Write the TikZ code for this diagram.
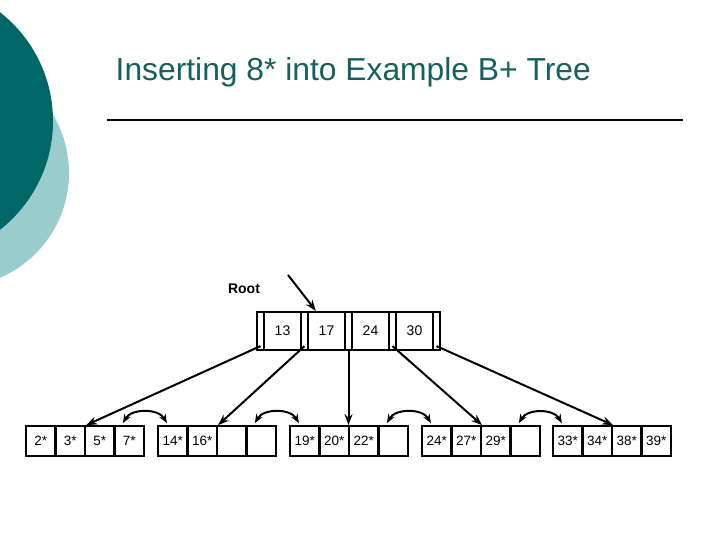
\documentclass[tikz,border=0pt]{standalone}
\usepackage{fontspec}
\setmainfont{Liberation Sans}
\usetikzlibrary{arrows.meta}
\definecolor{darkteal}{RGB}{0,102,102}
\definecolor{lightteal}{RGB}{153,204,204}
\definecolor{titleteal}{RGB}{22,96,96}
\tikzset{
  cell/.style={draw=black, line width=2.2pt, inner sep=0pt, minimum width=29.5pt, minimum height=29.5pt, font=\fontsize{13.5}{15}\selectfont},
  pcell/.style={draw=black, line width=2.2pt, inner sep=0pt, minimum width=7pt, minimum height=38pt},
  kcell/.style={draw=black, line width=2.2pt, inner sep=0pt, minimum width=37pt, minimum height=38pt, font=\fontsize{14}{16}\selectfont},
  ptr/.style={line width=2pt, -{Stealth[length=11pt,width=8pt]}},
  sib/.style={line width=2pt, {Stealth[length=9pt,width=7pt]}-{Stealth[length=9pt,width=7pt]}},
}
\begin{document}
\begin{tikzpicture}[x=1pt,y=-1pt]
\useasboundingbox (0,0) rectangle (720,540);
\clip (0,0) rectangle (720,540);
\fill[white] (0,0) rectangle (720,540);
% background circles
\fill[lightteal] (-45,173) circle[radius=114pt];
\fill[darkteal] (-85,121) circle[radius=138pt];
% title
\node[anchor=base west, inner sep=0pt, text=titleteal, font=\fontsize{31.8}{36}\selectfont] (title) at (115.5,80.5) {Inserting 8* into Example B+ Tree};
\coordinate (ruleL) at (107,120);
\coordinate (ruleR) at (683,120);
\draw[line width=2.2pt] (ruleL) -- (ruleR);
% root node
\node[pcell] (p0) at (260.5,331) {};
\node[kcell] (k1) at (282.5,331) {13};
\node[pcell] (p1) at (304.5,331) {};
\node[kcell] (k2) at (326.5,331) {17};
\node[pcell] (p2) at (348.5,331) {};
\node[kcell] (k3) at (370.5,331) {24};
\node[pcell] (p3) at (392.5,331) {};
\node[kcell] (k4) at (414.5,331) {30};
\node[pcell] (p4) at (436.5,331) {};
\node[font=\bfseries\fontsize{14}{16}\selectfont] (rootlbl) at (244,288.5) {Root};
\coordinate (rootin) at (288,275);
\draw[ptr] (rootin) -- ([xshift=9pt]k2.north west);
% leaves
\foreach \i/\s/\a/\b/\c/\d in {1/26/2*/3*/5*/7*, 2/158/14*/16*//, 3/290/19*/20*/22*/, 4/422/24*/27*/29*/, 5/553/33*/34*/38*/39*}{
  \node[cell] (l\i c1) at (\s+14.75,441) {\a};
  \node[cell] (l\i c2) at (\s+44.25,441) {\b};
  \node[cell] (l\i c3) at (\s+73.75,441) {\c};
  \node[cell] (l\i c4) at (\s+103.25,441) {\d};
}
% pointers from root to leaves
\draw[ptr] ([yshift=5pt]p0.south) -- (l1c2.north east);
\draw[ptr] ([yshift=5pt]p1.south) -- (l2c2.north east);
\draw[ptr] (p2.south) -- (p2.south |- l3c2.north);
\draw[ptr] ([yshift=5pt]p3.south) -- (l4c2.north east);
\draw[ptr] ([yshift=5pt]p4.south) -- (l5c2.north east);
% sibling links
\draw[sib] ([xshift=9.5pt,yshift=2pt]l1c4.north west) to[out=60,in=120] ([xshift=10pt,yshift=2pt]l2c1.north west);
\draw[sib] ([xshift=9.5pt,yshift=2pt]l2c4.north west) to[out=60,in=120] ([xshift=10pt,yshift=2pt]l3c1.north west);
\draw[sib] ([xshift=9.5pt,yshift=2pt]l3c4.north west) to[out=60,in=120] ([xshift=10pt,yshift=2pt]l4c1.north west);
\draw[sib] ([xshift=9.5pt,yshift=2pt]l4c4.north west) to[out=60,in=120] ([xshift=10pt,yshift=2pt]l5c1.north west);
\end{tikzpicture}
\end{document}
